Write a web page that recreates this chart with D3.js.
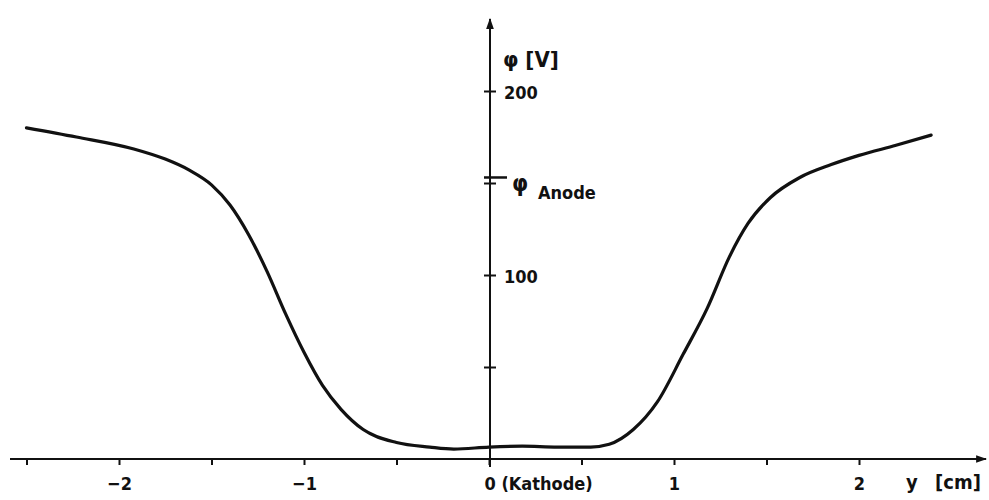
<!DOCTYPE html>
<html>
<head>
<meta charset="utf-8">
<script src="https://cdn.jsdelivr.net/npm/d3@7"></script>
<style>
  html, body { margin: 0; padding: 0; background: #fff; }
  svg { display: block; }
  text { font-family: "DejaVu Sans Condensed", "DejaVu Sans", sans-serif; fill: #111; }
</style>
</head>
<body>
<svg id="chart" width="989" height="500"></svg>
<script>
// Potential φ (V) across the electrode gap, y in cm (cathode at 0)
const positionsCm = [-2.50, -2.23, -1.92, -1.75, -1.62, -1.50, -1.40, -1.30, -1.20, -1.10,
                     -1.00, -0.90, -0.80, -0.68, -0.50, -0.32, -0.19, 0.00, 0.18, 0.37,
                     0.55, 0.65, 0.78, 0.91, 1.05, 1.18, 1.30, 1.40, 1.52, 1.68,
                     1.85, 2.00, 2.20, 2.39];
const potentialV = [180, 175, 168.5, 163, 157, 149, 138, 122, 102, 79,
                    58, 40, 27, 16, 9, 6.5, 5.4, 6.5, 7, 6.5,
                    6.5, 8, 16, 31, 57, 82, 110, 128, 142, 153,
                    160, 165, 170.5, 176];
const xTicks = [-2.5, -2, -1.5, -1, -0.5, 0, 0.5, 1, 1.5, 2];
const xTickLabels = { "-2": "−2", "-1": "−1", "0": "0 (Kathode)", "1": "1", "2": "2" };
const yTicks = [50, 100, 150, 200];
const yTickLabels = { "100": "100", "200": "200" };
const anodePotential = 153;

const svg = d3.select("#chart");
const x = d3.scaleLinear().domain([-2.5, 2.5]).range([26.5, 951.5]);
const y = d3.scaleLinear().domain([0, 200]).range([459, 91]);

// arrow head
svg.append("defs").append("marker")
  .attr("id", "arrow").attr("viewBox", "0 0 10 10")
  .attr("refX", 9).attr("refY", 5)
  .attr("markerWidth", 11).attr("markerHeight", 11)
  .attr("markerUnits", "userSpaceOnUse")
  .attr("orient", "auto")
  .append("path").attr("d", "M0,1.5 L10,5 L0,8.5 Z").attr("fill", "#111");

// x axis
const xAxis = d3.axisBottom(x).tickValues(xTicks).tickSizeInner(6).tickSizeOuter(0)
  .tickFormat(d => xTickLabels[String(d)] || "");
const gx = svg.append("g").attr("transform", `translate(0,${y(0)})`).call(xAxis);
gx.select(".domain").remove();
gx.selectAll(".tick line").attr("stroke", "#111").attr("stroke-width", 2).attr("y1", -1);
gx.selectAll(".tick text").attr("font-size", 18).attr("font-weight", "bold").attr("dy", "1.2em");
gx.selectAll(".tick").filter(d => d === 0).select("text")
  .attr("text-anchor", "start").attr("dx", -5);
svg.append("line")
  .attr("x1", 10).attr("x2", 986).attr("y1", y(0)).attr("y2", y(0))
  .attr("stroke", "#111").attr("stroke-width", 2).attr("marker-end", "url(#arrow)");
svg.append("text").attr("x", 906).attr("y", 489).attr("font-size", 20).attr("font-weight", "bold").text("y");
svg.append("text").attr("x", 935).attr("y", 489).attr("font-size", 20).attr("font-weight", "bold").text("[cm]");

// y axis
const gy = svg.append("g").attr("transform", `translate(${x(0) + 1},0)`)
  .call(d3.axisRight(y).tickValues(yTicks).tickSizeInner(6).tickSizeOuter(0)
    .tickFormat(d => yTickLabels[String(d)] || ""));
gy.select(".domain").remove();
gy.selectAll(".tick line").attr("stroke", "#111").attr("stroke-width", 2).attr("x1", -6);
gy.selectAll(".tick text").attr("font-size", 18).attr("font-weight", "bold").attr("x", 14).attr("dy", "0.4em");
svg.append("line")
  .attr("x1", x(0) + 1).attr("x2", x(0) + 1).attr("y1", 467).attr("y2", 19)
  .attr("stroke", "#111").attr("stroke-width", 2).attr("marker-end", "url(#arrow)");
svg.append("text").attr("x", 503).attr("y", 67).attr("font-size", 22).attr("font-weight", "bold").text("φ [V]");

// anode potential marker
svg.append("line")
  .attr("x1", x(0) - 5).attr("x2", x(0) + 18).attr("y1", y(anodePotential)).attr("y2", y(anodePotential))
  .attr("stroke", "#111").attr("stroke-width", 2.5);
svg.append("text").attr("x", 512).attr("y", 191).attr("font-size", 23).attr("font-weight", "bold").text("φ");
svg.append("text").attr("x", 538).attr("y", 199).attr("font-size", 18).attr("font-weight", "bold").text("Anode");

// potential curve
const line = d3.line().x((d, i) => x(positionsCm[i])).y(d => y(d)).curve(d3.curveMonotoneX);
svg.append("path").datum(potentialV)
  .attr("d", line).attr("fill", "none")
  .attr("stroke", "#111").attr("stroke-width", 3.2).attr("stroke-linecap", "round");
</script>
</body>
</html>
